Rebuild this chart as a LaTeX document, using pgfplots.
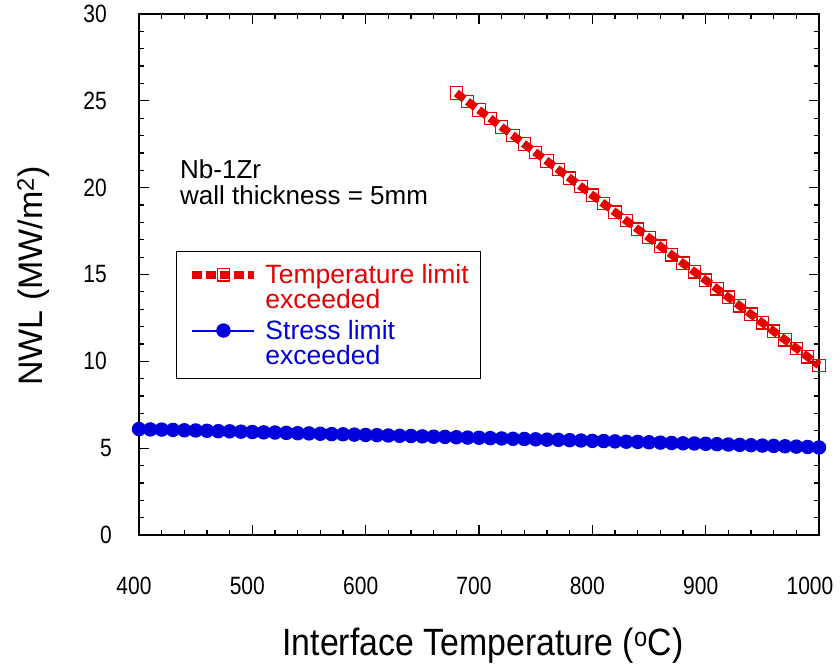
\documentclass[border=0pt]{standalone}
\usepackage{fontspec}
\setmainfont{Liberation Sans}
\newfontfamily\narrowfont{Liberation Sans}[FakeStretch=0.84]
\newfontfamily\xlabfont{Liberation Sans}[FakeStretch=0.89]
\usepackage{pgfplots}
\pgfplotsset{compat=1.18}
\definecolor{myred}{RGB}{230,0,0}
\definecolor{myblue}{RGB}{0,0,220}

\begin{document}
\begin{tikzpicture}
\useasboundingbox (-139bp,-129bp) rectangle (701bp,535bp);
\begin{axis}[
  at={(0,0)}, anchor=south west,
  scale only axis, width=680bp, height=521bp,
  xmin=400, xmax=1000, ymin=0, ymax=30,
  clip=false,
  xtick={400,500,...,1000}, ytick={0,5,...,30},
  xticklabels={400,500,600,700,800,900,{1000\kern8bp}},
  yticklabels={{0\kern-5bp},{5\kern-5bp},10,15,20,25,30},
  minor x tick num=4, minor y tick num=4,
  major tick length=10bp, minor tick length=5bp,
  every tick/.style={black, line width=1.2bp},
  axis line style={line width=2.5bp},
  /pgf/number format/assume math mode=true,
  /pgf/number format/1000 sep={},
  xticklabel style={font=\fontsize{25bp}{25bp}\selectfont\narrowfont, anchor=north, inner sep=0pt, yshift=-42bp, xshift=-5bp},
  yticklabel style={font=\fontsize{25bp}{25bp}\selectfont\narrowfont, anchor=east, inner sep=0pt, xshift=-32bp},
  xlabel={Interface Temperature (\textsuperscript{o}C)},
  xlabel style={font=\fontsize{38bp}{38bp}\selectfont\xlabfont, at={(axis description cs:0.5059,-0.2322)}, anchor=base, inner sep=0pt},
  ylabel={NWL (MW/m\textsuperscript{2})},
  ylabel style={font=\fontsize{34bp}{34bp}\selectfont, at={(axis description cs:-0.1412,0.497)}, anchor=base, inner sep=0pt},
  legend style={at={(axis description cs:0.0544,0.5451)}, anchor=north west, draw=black, line width=1bp,
    inner xsep=12bp, inner ysep=13bp, font=\fontsize{26.5bp}{25bp}\selectfont,
    nodes={inner sep=0pt, align=left}, row sep=10bp, column sep=7bp},
  legend cell align=left,
  legend image code/.code={\draw[mark repeat=2, mark phase=2, yshift=12.5bp, #1] plot coordinates {(0bp,0bp) (31bp,0bp) (62bp,0bp)};},
]
\addplot[myred, line width=8bp, dash pattern=on 10bp off 4bp, mark=square, mark size=6.2bp, mark options={solid, line width=1.2bp}] coordinates {
(680,25.45) (690,24.96) (700,24.47) (710,23.98) (720,23.49) (730,23.00) (740,22.51) (750,22.02)
(760,21.53) (770,21.04) (780,20.55) (790,20.06) (800,19.57) (810,19.08) (820,18.59) (830,18.10)
(840,17.61) (850,17.12) (860,16.63) (870,16.14) (880,15.65) (890,15.16) (900,14.67) (910,14.18)
(920,13.69) (930,13.20) (940,12.71) (950,12.22) (960,11.73) (970,11.24) (980,10.75) (990,10.26)
(1000,9.77)
};
\addlegendentry[text=myred]{Temperature limit\\exceeded}
\addplot[myblue, line width=2bp, mark=*, mark size=6.2bp, mark options={solid}] coordinates {
(400,6.10) (410,6.08) (420,6.07) (430,6.05) (440,6.03) (450,6.02) (460,6.00) (470,5.98) (480,5.97) (490,5.95)
(500,5.93) (510,5.91) (520,5.90) (530,5.88) (540,5.86) (550,5.85) (560,5.83) (570,5.81) (580,5.80) (590,5.78)
(600,5.76) (610,5.75) (620,5.73) (630,5.71) (640,5.70) (650,5.68) (660,5.66) (670,5.65) (680,5.63) (690,5.61)
(700,5.60) (710,5.58) (720,5.56) (730,5.54) (740,5.53) (750,5.51) (760,5.49) (770,5.48) (780,5.46) (790,5.44)
(800,5.42) (810,5.41) (820,5.39) (830,5.37) (840,5.36) (850,5.34) (860,5.32) (870,5.30) (880,5.28) (890,5.27)
(900,5.25) (910,5.23) (920,5.21) (930,5.19) (940,5.17) (950,5.15) (960,5.13) (970,5.11) (980,5.09) (990,5.07)
(1000,5.04)
};
\addlegendentry[text=myblue]{Stress limit\\exceeded}
\node[anchor=base west, inner sep=0pt, font=\fontsize{26bp}{26bp}\selectfont] at (axis description cs:0.0603,0.6833) {Nb-1Zr};
\node[anchor=base west, inner sep=0pt, font=\fontsize{26bp}{26bp}\selectfont] at (axis description cs:0.0603,0.6334) {wall thickness = 5mm};
\end{axis}
\end{tikzpicture}
\end{document}
